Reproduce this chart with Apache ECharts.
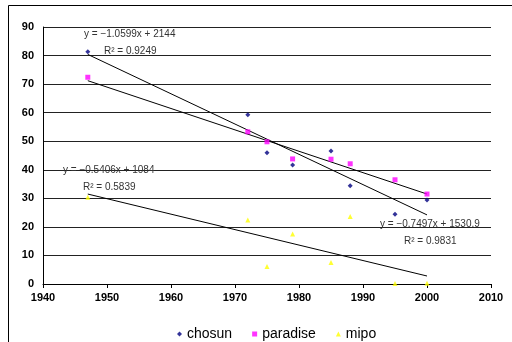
<!DOCTYPE html>
<html>
<head>
<meta charset="utf-8">
<script src="https://cdn.jsdelivr.net/npm/echarts@6/dist/echarts.min.js"></script>
<style>
  html, body { margin: 0; padding: 0; background: #fff; }
  #chart { width: 512px; height: 342px; }
</style>
</head>
<body>
<div id="chart"></div>
<script>
// years observed
const years = [1947, 1972, 1975, 1979, 1985, 1988, 1995, 2000];
const chosun = [81.3, 59.3, 46.0, 41.7, 46.6, 34.4, 24.4, 29.4];
const paradise = [72.4, 53.3, 49.8, 43.8, 43.7, 42.1, 36.5, 31.5];
const mipo = [30.4, 22.4, 6.1, 17.5, 7.5, 23.6, 0.2, 0.3];

// linear trendline end points (1947 and 2000) as drawn
const trendYears = [1947, 2000];
const chosunTrend = [80.4, 24.2];
const paradiseTrend = [71.2, 31.5];
const mipoTrend = [31.5, 2.8];

const zip = (xs, ys) => xs.map((x, i) => [x, ys[i]]);

const chart = echarts.init(document.getElementById('chart'));

const trendSeries = (vals) => ({
  type: 'line',
  data: zip(trendYears, vals),
  symbol: 'none',
  silent: true,
  lineStyle: { color: '#000', width: 1 },
  z: 1
});

const labelStyle = { font: '10px "Liberation Sans", Arial, sans-serif', fill: '#333' };
const note = (x, y, text) => ({
  type: 'text', left: x, top: y,
  style: Object.assign({ text: text }, labelStyle), z: 10
});

const tickFont = { color: '#000', fontSize: 11, fontWeight: 700, fontFamily: '"Liberation Sans", Arial, sans-serif' };

chart.setOption({
  animation: false,
  backgroundColor: '#fff',
  textStyle: { fontFamily: '"Liberation Sans", Arial, sans-serif' },
  grid: { left: 43, top: 27, right: 21, bottom: 58 },
  xAxis: {
    type: 'value', min: 1940, max: 2010, interval: 10,
    axisLine: { show: true, lineStyle: { color: '#000', width: 1 } },
    axisTick: { show: true, length: 4, lineStyle: { color: '#000' } },
    splitLine: { show: false },
    axisLabel: Object.assign({ margin: 8, formatter: (v) => String(v) }, tickFont)
  },
  yAxis: {
    type: 'value', min: 0, max: 90, interval: 10,
    axisLine: { show: true, lineStyle: { color: '#000', width: 1 } },
    axisTick: { show: false },
    splitLine: { show: true, lineStyle: { color: '#222', width: 1 } },
    axisLabel: Object.assign({ margin: 9, formatter: (v) => String(v) }, tickFont)
  },
  legend: {
    left: 172, top: 322,
    itemWidth: 5, itemHeight: 5, itemGap: 20,
    textStyle: { fontSize: 14, color: '#000' },
    data: [
      { name: 'chosun', icon: 'diamond' },
      { name: 'paradise', icon: 'rect' },
      { name: 'mipo', icon: 'triangle' }
    ]
  },
  series: [
    {
      name: 'chosun', type: 'scatter', data: zip(years, chosun),
      symbol: 'diamond', symbolSize: 5, itemStyle: { color: '#000080' }, z: 3
    },
    {
      name: 'paradise', type: 'scatter', data: zip(years, paradise),
      symbol: 'rect', symbolSize: 5, itemStyle: { color: '#ff00ff' }, z: 3
    },
    {
      name: 'mipo', type: 'scatter', data: zip(years, mipo),
      symbol: 'triangle', symbolSize: 5, itemStyle: { color: '#ffff00' }, z: 3
    },
    trendSeries(chosunTrend),
    trendSeries(paradiseTrend),
    trendSeries(mipoTrend)
  ],
  graphic: [
    {
      type: 'rect', shape: { x: 8.5, y: 5.5, width: 600, height: 400 },
      style: { fill: 'none', stroke: '#000', lineWidth: 1 }, silent: true
    },
    note(84, 29, 'y = \u22121.0599x + 2144'),
    note(104, 46, 'R\u00b2 = 0.9249'),
    note(63, 165, 'y = \u22120.5406x + 1084'),
    note(83, 182, 'R\u00b2 = 0.5839'),
    note(380, 219, 'y = \u22120.7497x + 1530.9'),
    note(404, 236, 'R\u00b2 = 0.9831')
  ]
});
</script>
</body>
</html>
